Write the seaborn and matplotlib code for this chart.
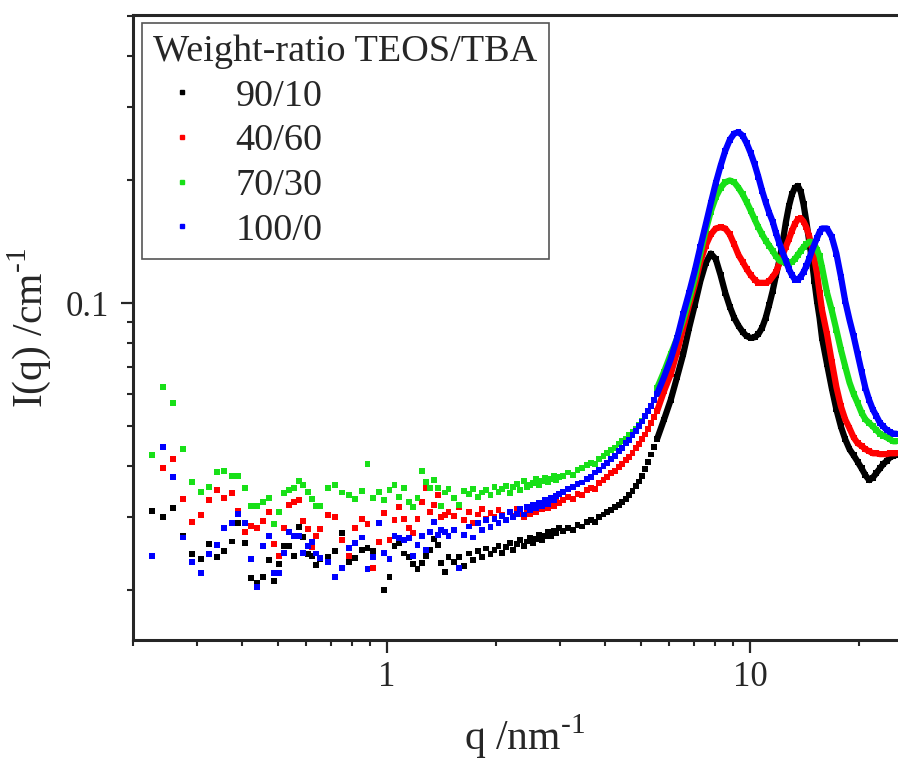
import pandas as pd
import seaborn as sns
import matplotlib.pyplot as plt
from matplotlib.lines import Line2D
from matplotlib.ticker import LogLocator, NullFormatter

# scattering vector q (nm^-1), shared by all four samples
q = [
    0.225, 0.242, 0.258, 0.275, 0.291, 0.308, 0.324, 0.341, 0.357, 0.374,
    0.390, 0.407, 0.423, 0.440, 0.456, 0.473, 0.489, 0.506, 0.522, 0.539,
    0.555, 0.572, 0.588, 0.605, 0.621, 0.638, 0.654,
    0.687, 0.720, 0.753, 0.786, 0.819, 0.852, 0.885, 0.918, 0.951, 0.984,
    1.017, 1.050, 1.083, 1.116, 1.149, 1.182, 1.215, 1.248, 1.281, 1.314,
    1.347, 1.380, 1.413, 1.446, 1.479,
    1.53, 1.58, 1.63, 1.68, 1.73, 1.78, 1.83, 1.88, 1.93, 1.98,
    2.03, 2.08, 2.13, 2.18, 2.23, 2.28, 2.33, 2.38, 2.43, 2.48,
    2.53, 2.58, 2.63, 2.68, 2.73, 2.78, 2.83, 2.88, 2.93, 2.98,
    3.05, 3.15, 3.25, 3.35, 3.45, 3.55, 3.65, 3.75, 3.85, 3.95,
    4.05, 4.15, 4.25, 4.35, 4.45, 4.55, 4.65, 4.75, 4.85, 4.95,
    5.05, 5.15, 5.25, 5.35, 5.45,
    5.55, 5.80, 6.05, 6.30, 6.55, 6.80, 7.05, 7.30, 7.55, 7.80,
    8.05, 8.30, 8.55, 8.80, 9.05, 9.30, 9.55, 9.80, 10.05, 10.30,
    10.55, 10.80, 11.05, 11.30, 11.55, 11.80, 12.05, 12.30, 12.55, 12.80,
    13.05, 13.30, 13.55, 13.80, 14.05, 14.30, 14.55, 14.80, 15.05, 15.30,
    15.55, 15.80,
    16.3, 16.8, 17.3, 17.8, 18.3, 18.8, 19.3, 19.8, 20.3, 20.8,
    21.3, 21.8, 22.3, 22.8, 23.3, 23.8, 24.3, 24.8, 25.3,
]

# I(q) in cm^-1
i_90_10 = [
    0.0311, 0.0300, 0.0316, 0.0270, 0.0244, 0.0238, 0.0259, 0.0240, 0.0249, 0.0262,
    0.0290, 0.0260, 0.0213, 0.0208, 0.0215, 0.0236, 0.0210, 0.0231, 0.0256, 0.0256,
    0.0242, 0.0284, 0.0269, 0.0244, 0.0241, 0.0230, 0.0238,
    0.0240, 0.0249, 0.0275, 0.0233, 0.0239, 0.0250, 0.0253, 0.0248, 0.0261, 0.0200,
    0.0215, 0.0256, 0.0260, 0.0245, 0.0240, 0.0231, 0.0225, 0.0232, 0.0242, 0.0250,
    0.0266, 0.0257, 0.0232, 0.0221, 0.0240,
    0.0234, 0.0240, 0.0228, 0.0245, 0.0236, 0.0248, 0.0240, 0.0252, 0.0244, 0.0250,
    0.0256, 0.0246, 0.0254, 0.0260, 0.0250, 0.0258, 0.0264, 0.0255, 0.0262, 0.0268,
    0.0260, 0.0266, 0.0272, 0.0264, 0.0270, 0.0276, 0.0270, 0.0278, 0.0274, 0.0282,
    0.0278, 0.0283, 0.0279, 0.0288, 0.0285, 0.0292, 0.0296, 0.0293, 0.0301, 0.0305,
    0.0309, 0.0313, 0.0318, 0.0322, 0.0327, 0.0333, 0.0340, 0.0348, 0.0357, 0.0367,
    0.0379, 0.0393, 0.0409, 0.0427, 0.0446,
    0.0466, 0.0520, 0.0580, 0.0660, 0.0750, 0.0870, 0.0990, 0.1130, 0.1250, 0.1320,
    0.1280, 0.1170, 0.1060, 0.0980, 0.0920, 0.0880, 0.0850, 0.0830, 0.0822, 0.0825,
    0.0840, 0.0870, 0.0920, 0.0990, 0.1070, 0.1170, 0.1270, 0.1400, 0.1570, 0.1720,
    0.1840, 0.1910, 0.1930, 0.1870, 0.1740, 0.1580, 0.1420, 0.1280, 0.1130, 0.1010,
    0.0920, 0.0820,
    0.0710, 0.0620, 0.0550, 0.0500, 0.0465, 0.0440, 0.0425, 0.0410, 0.0395, 0.0380,
    0.0370, 0.0375, 0.0385, 0.0395, 0.0405, 0.0412, 0.0420, 0.0424, 0.0426,
]

i_40_60 = [
    0.0425, 0.0396, 0.0416, 0.0333, 0.0292, 0.0304, 0.0330, 0.0350, 0.0335, 0.0344,
    0.0311, 0.0276, 0.0286, 0.0283, 0.0294, 0.0309, 0.0259, 0.0241, 0.0283, 0.0322,
    0.0327, 0.0331, 0.0294, 0.0281, 0.0254, 0.0270, 0.0281,
    0.0304, 0.0300, 0.0264, 0.0242, 0.0283, 0.0298, 0.0289, 0.0226, 0.0261, 0.0308,
    0.0264, 0.0296, 0.0318, 0.0298, 0.0283, 0.0275, 0.0298, 0.0327, 0.0354, 0.0309,
    0.0322, 0.0340, 0.0300, 0.0304, 0.0310,
    0.0302, 0.0318, 0.0296, 0.0310, 0.0290, 0.0305, 0.0314, 0.0298, 0.0308, 0.0300,
    0.0312, 0.0304, 0.0296, 0.0310, 0.0302, 0.0315, 0.0306, 0.0300, 0.0312, 0.0305,
    0.0316, 0.0310, 0.0320, 0.0314, 0.0322, 0.0316, 0.0326, 0.0320, 0.0330, 0.0325,
    0.0330, 0.0336, 0.0333, 0.0342, 0.0340, 0.0350, 0.0354, 0.0352, 0.0364, 0.0370,
    0.0377, 0.0384, 0.0390, 0.0398, 0.0405, 0.0414, 0.0422, 0.0431, 0.0442, 0.0452,
    0.0465, 0.0478, 0.0493, 0.0509, 0.0526,
    0.0545, 0.0610, 0.0670, 0.0760, 0.0870, 0.0990, 0.1110, 0.1260, 0.1380, 0.1470,
    0.1520, 0.1530, 0.1520, 0.1470, 0.1390, 0.1310, 0.1260, 0.1210, 0.1170, 0.1140,
    0.1120, 0.1120, 0.1120, 0.1130, 0.1160, 0.1190, 0.1250, 0.1310, 0.1370, 0.1430,
    0.1500, 0.1560, 0.1600, 0.1610, 0.1580, 0.1530, 0.1460, 0.1370, 0.1280, 0.1180,
    0.1060, 0.0960,
    0.0840, 0.0720, 0.0624, 0.0560, 0.0520, 0.0495, 0.0470, 0.0455, 0.0448, 0.0440,
    0.0435, 0.0430, 0.0430, 0.0428, 0.0428, 0.0428, 0.0430, 0.0430, 0.0430,
]

i_70_30 = [
    0.0426, 0.0624, 0.0570, 0.0440, 0.0366, 0.0346, 0.0356, 0.0387, 0.0390, 0.0379,
    0.0379, 0.0354, 0.0320, 0.0320, 0.0327, 0.0335, 0.0289, 0.0310, 0.0344, 0.0350,
    0.0354, 0.0368, 0.0360, 0.0346, 0.0333, 0.0320, 0.0320,
    0.0354, 0.0360, 0.0345, 0.0340, 0.0333, 0.0348, 0.0405, 0.0335, 0.0346, 0.0331,
    0.0350, 0.0360, 0.0337, 0.0354, 0.0327, 0.0318, 0.0335, 0.0390, 0.0366, 0.0354,
    0.0370, 0.0354, 0.0320, 0.0345, 0.0352,
    0.0335, 0.0322, 0.0348, 0.0342, 0.0352, 0.0336, 0.0345, 0.0350, 0.0340, 0.0355,
    0.0346, 0.0352, 0.0358, 0.0344, 0.0356, 0.0362, 0.0350, 0.0368, 0.0355, 0.0360,
    0.0364, 0.0372, 0.0360, 0.0368, 0.0375, 0.0366, 0.0372, 0.0378, 0.0370, 0.0376,
    0.0378, 0.0386, 0.0381, 0.0392, 0.0395, 0.0402, 0.0408, 0.0405, 0.0416, 0.0424,
    0.0430, 0.0437, 0.0444, 0.0452, 0.0460, 0.0467, 0.0476, 0.0484, 0.0494, 0.0505,
    0.0516, 0.0530, 0.0545, 0.0562, 0.0580,
    0.0620, 0.0680, 0.0750, 0.0820, 0.0910, 0.1020, 0.1150, 0.1320, 0.1500, 0.1670,
    0.1810, 0.1910, 0.1970, 0.1990, 0.1970, 0.1910, 0.1840, 0.1760, 0.1680, 0.1600,
    0.1530, 0.1470, 0.1420, 0.1380, 0.1340, 0.1300, 0.1270, 0.1260, 0.1250, 0.1250,
    0.1260, 0.1280, 0.1310, 0.1340, 0.1370, 0.1390, 0.1410, 0.1410, 0.1390, 0.1350,
    0.1300, 0.1220,
    0.1060, 0.0960, 0.0860, 0.0770, 0.0700, 0.0640, 0.0600, 0.0570, 0.0540, 0.0520,
    0.0510, 0.0500, 0.0490, 0.0480, 0.0475, 0.0470, 0.0465, 0.0460, 0.0460,
]

i_100_0 = [
    0.0241, 0.0445, 0.0377, 0.0268, 0.0233, 0.0220, 0.0244, 0.0257, 0.0283, 0.0290,
    0.0306, 0.0290, 0.0238, 0.0203, 0.0256, 0.0270, 0.0220, 0.0220, 0.0246, 0.0276,
    0.0270, 0.0270, 0.0246, 0.0255, 0.0261, 0.0245, 0.0239,
    0.0233, 0.0215, 0.0226, 0.0253, 0.0260, 0.0268, 0.0224, 0.0240, 0.0290, 0.0246,
    0.0238, 0.0270, 0.0267, 0.0264, 0.0267, 0.0242, 0.0257, 0.0270, 0.0250, 0.0276,
    0.0292, 0.0272, 0.0280, 0.0276, 0.0270,
    0.0280, 0.0226, 0.0272, 0.0285, 0.0268, 0.0290, 0.0279, 0.0295, 0.0284, 0.0298,
    0.0290, 0.0302, 0.0296, 0.0310, 0.0300, 0.0306, 0.0314, 0.0305, 0.0318, 0.0312,
    0.0322, 0.0316, 0.0326, 0.0320, 0.0330, 0.0324, 0.0334, 0.0330, 0.0338, 0.0342,
    0.0346, 0.0352, 0.0355, 0.0362, 0.0365, 0.0373, 0.0377, 0.0386, 0.0391, 0.0401,
    0.0407, 0.0417, 0.0424, 0.0435, 0.0443, 0.0455, 0.0464, 0.0477, 0.0487, 0.0500,
    0.0514, 0.0530, 0.0546, 0.0562, 0.0580,
    0.0600, 0.0660, 0.0730, 0.0820, 0.0940, 0.1060, 0.1200, 0.1370, 0.1550, 0.1750,
    0.1960, 0.2160, 0.2350, 0.2500, 0.2590, 0.2610, 0.2560, 0.2450, 0.2320, 0.2180,
    0.2030, 0.1880, 0.1760, 0.1660, 0.1580, 0.1480, 0.1400, 0.1330, 0.1270, 0.1210,
    0.1170, 0.1140, 0.1140, 0.1160, 0.1190, 0.1230, 0.1280, 0.1340, 0.1390, 0.1440,
    0.1490, 0.1520,
    0.1520, 0.1450, 0.1320, 0.1160, 0.1010, 0.0910, 0.0830, 0.0750, 0.0680, 0.0620,
    0.0580, 0.0550, 0.0530, 0.0510, 0.0500, 0.0490, 0.0485, 0.0480, 0.0480,
]

labels = ["90/10", "40/60", "70/30", "100/0"]
colors = ["#000000", "#ff0000", "#18e018", "#0000ff"]

frames = []
for lab, vals in zip(labels, [i_90_10, i_40_60, i_70_30, i_100_0]):
    frames.append(pd.DataFrame({"q": q, "I": vals, "ratio": lab}))
df = pd.concat(frames, ignore_index=True)
palette = dict(zip(labels, colors))

sns.set_style("ticks")
plt.rcParams["font.family"] = ["Liberation Serif", "DejaVu Serif"]
plt.rcParams["mathtext.fontset"] = "custom"
plt.rcParams["mathtext.rm"] = "Liberation Serif"

fig = plt.figure(figsize=(8.98, 7.61), dpi=100)
ax = fig.add_axes([133 / 898, 1 - 640 / 761, 765 / 898, 625 / 761])
ax.set_xscale("log")
ax.set_yscale("log")

# dense part of the curves looks like a continuous band
sns.lineplot(data=df[df["q"] >= 5.5], x="q", y="I", hue="ratio", hue_order=labels,
             palette=palette, lw=4.5, estimator=None, legend=False, ax=ax)
sns.scatterplot(data=df, x="q", y="I", hue="ratio", hue_order=labels,
                palette=palette, marker="s", s=18, linewidth=0, legend=False, ax=ax)

ax.set_xlim(0.2, 25.57)
ax.set_ylim(0.01507, 0.504)

ax.set_xticks([1, 10])
ax.set_xticklabels(["1", "10"])
ax.set_yticks([0.1])
ax.set_yticklabels(["0.1"])
ax.xaxis.set_minor_locator(LogLocator(base=10, subs=range(2, 10)))
ax.yaxis.set_minor_locator(LogLocator(base=10, subs=range(2, 10)))
ax.xaxis.set_minor_formatter(NullFormatter())
ax.yaxis.set_minor_formatter(NullFormatter())
ax.tick_params(which="major", direction="out", length=9, width=1.6, labelsize=25)
ax.tick_params(which="minor", direction="out", length=4.5, width=1.5)
ax.tick_params(axis="x", which="major", pad=6)
ax.tick_params(axis="y", which="major", pad=8)

for side in ["left", "bottom", "top"]:
    ax.spines[side].set_linewidth(2.2)
ax.spines["right"].set_visible(False)

ax.set_xlabel(r"q /nm$^{\text{-1}}$", fontsize=30)
ax.set_ylabel(r"I(q) /cm$^{\text{-1}}$", fontsize=30)
ax.xaxis.set_label_coords(0.512, -0.115)
ax.yaxis.set_label_coords(-0.105, 0.5)

handles = [Line2D([], [], ls="none", marker="s", ms=3, color=c, mec=c) for c in colors]
leg = ax.legend(handles, labels, title="Weight-ratio TEOS/TBA", loc="upper left",
                bbox_to_anchor=(0.0118, 0.987), borderaxespad=0, fontsize=27.5,
                title_fontsize=27.5, alignment="left", frameon=True, fancybox=False,
                edgecolor="#555555", framealpha=1, handlelength=1.5,
                handletextpad=0.65, labelspacing=0.26, borderpad=0.3)
leg.get_frame().set_linewidth(1.2)

fig.savefig("out.png", dpi=100)
